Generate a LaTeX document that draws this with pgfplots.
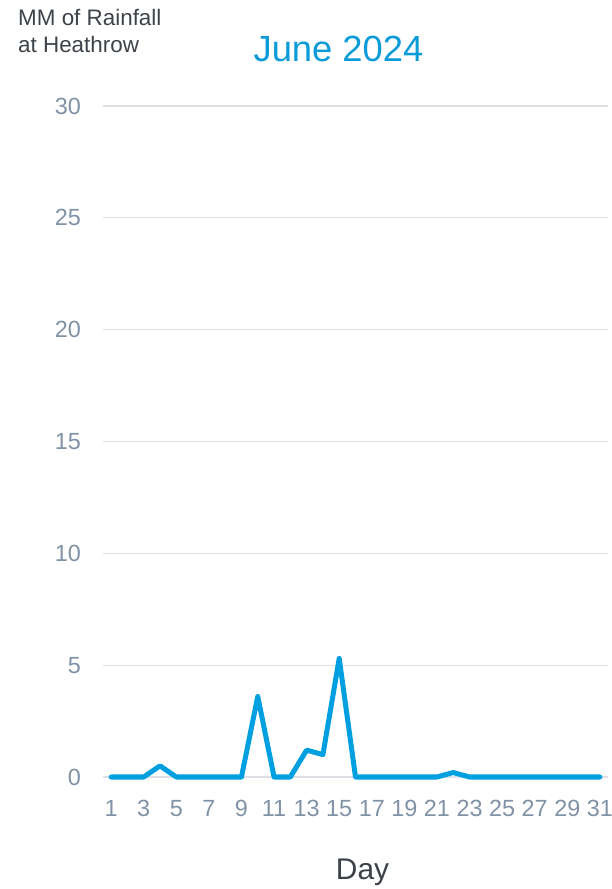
\documentclass[border=0pt]{standalone}
\usepackage{pgfplots}
\pgfplotsset{compat=1.18}
\usepackage{fontspec}
\setmainfont{Liberation Sans}
\definecolor{rainblue}{RGB}{0,159,223}
\definecolor{titleblue}{RGB}{10,155,216}
\definecolor{tickgray}{RGB}{128,146,165}
\definecolor{gridgray}{RGB}{221,225,230}
\definecolor{darktext}{RGB}{60,66,72}
\begin{document}
\begin{tikzpicture}
\useasboundingbox (0,0) rectangle (612bp,889bp);
\begin{axis}[
  at={(103bp,112bp)}, anchor=south west,
  scale only axis, width=505bp, height=671bp,
  xmin=0.5, xmax=31.5, ymin=0, ymax=30,
  xtick={1,3,...,31}, ytick={0,5,...,30},
  axis line style={draw=none},
  major tick length=0pt,
  ymajorgrids, grid style={gridgray, line width=1.2bp},
  tick label style={font=\fontsize{23.5}{26}\selectfont, text=tickgray, inner sep=0pt},
  /pgf/number format/assume math mode=true,
  yticklabel style={anchor=east, xshift=-22bp},
  xticklabel style={anchor=north, yshift=-23bp},
  clip=false,
]
\addplot[rainblue, line width=5bp, line join=round, line cap=round] coordinates {
(1,0) (2,0) (3,0) (4,0.5) (5,0) (6,0) (7,0) (8,0) (9,0) (10,3.6)
(11,0) (12,0) (13,1.2) (14,1.0) (15,5.3) (16,0) (17,0) (18,0) (19,0) (20,0)
(21,0) (22,0.2) (23,0) (24,0) (25,0) (26,0) (27,0) (28,0) (29,0) (30,0) (31,0)
};
\node[anchor=north west, align=left, text=darktext, font=\fontsize{22.5}{27}\selectfont, inner sep=0pt]
  at ([xshift=-85bp, yshift=97bp]rel axis cs:0,1) {MM of Rainfall\\at Heathrow};
\node[text=titleblue, font=\fontsize{36.5}{40}\selectfont, inner sep=0pt]
  at ([xshift=-17bp, yshift=57.5bp]rel axis cs:0.5,1) {June 2024};
\node[text=darktext, font=\fontsize{30}{34}\selectfont, inner sep=0pt]
  at ([xshift=7bp, yshift=-95bp]rel axis cs:0.5,0) {Day};
\end{axis}
\end{tikzpicture}
\end{document}
